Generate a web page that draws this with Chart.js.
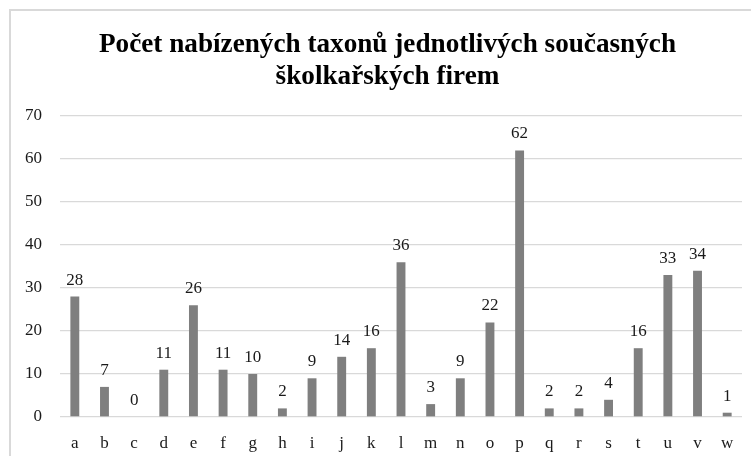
<!DOCTYPE html>
<html>
<head>
<meta charset="utf-8">
<script src="https://cdn.jsdelivr.net/npm/chart.js@4/dist/chart.umd.min.js"></script>
<style>
html,body{margin:0;padding:0;background:#fff;}
#wrap{position:relative;width:751px;height:456px;}
</style>
</head>
<body>
<div id="wrap"><canvas id="c" width="751" height="456"></canvas></div>
<script>
const categories = ["a","b","c","d","e","f","g","h","i","j","k","l","m","n","o","p","q","r","s","t","u","v","w"];
const values = [28,7,0,11,26,11,10,2,9,14,16,36,3,9,22,62,2,2,4,16,33,34,1];
const titleLines = ["Počet nabízených taxonů jednotlivých současných", "školkařských firem"];
const yTicks = [0,10,20,30,40,50,60,70];

const SERIF = "'Liberation Serif','Times New Roman',serif";

const framePlugin = {
  id: 'frame',
  beforeDraw(chart) {
    const ctx = chart.ctx;
    ctx.save();
    ctx.fillStyle = '#fff';
    ctx.fillRect(0, 0, chart.width, chart.height);
    ctx.strokeStyle = '#d9d9d9';
    ctx.lineWidth = 2;
    ctx.strokeRect(10, 10, 900, 600);
    ctx.restore();
  },
  afterDraw(chart) {
    const ctx = chart.ctx;
    ctx.save();
    ctx.fillStyle = '#000';
    ctx.font = "bold 28px " + SERIF;
    ctx.textAlign = 'center';
    ctx.textBaseline = 'alphabetic';
    const targetW = 577;
    const w0 = ctx.measureText(titleLines[0]).width;
    const sx = targetW / w0;
    const cx = 387.5;
    const baselines = [52, 84];
    titleLines.forEach((t, i) => {
      ctx.save();
      ctx.translate(cx, baselines[i]);
      ctx.scale(sx, 1);
      ctx.fillText(t, 0, 0);
      ctx.restore();
    });
    // data labels
    const meta = chart.getDatasetMeta(0);
    ctx.font = "17px " + SERIF;
    ctx.fillStyle = '#1a1a1a';
    meta.data.forEach((bar, i) => {
      ctx.fillText(String(values[i]), bar.x, bar.y - 12);
    });
    ctx.restore();
  }
};

new Chart(document.getElementById('c'), {
  type: 'bar',
  data: {
    labels: categories,
    datasets: [{
      data: values,
      backgroundColor: '#7f7f7f',
      borderWidth: 0,
      barPercentage: 0.3,
      categoryPercentage: 1.0
    }]
  },
  options: {
    responsive: false,
    animation: false,
    devicePixelRatio: 1,
    layout: { padding: { left: 10, right: 9, top: 116, bottom: 0 } },
    plugins: { legend: { display: false }, title: { display: false }, tooltip: { enabled: false } },
    scales: {
      x: {
        grid: { display: false },
        border: { display: false },
        ticks: { color: '#1a1a1a', font: { family: SERIF, size: 17 }, padding: 8, maxRotation: 0, autoSkip: false },
        afterFit(s) { s.height = 39; }
      },
      y: {
        min: 0, max: 70,
        afterBuildTicks(s) { s.ticks = yTicks.map(v => ({ value: v })); },
        grid: { color: '#d9d9d9', lineWidth: 1.3, drawTicks: false },
        border: { display: false },
        ticks: { color: '#1a1a1a', font: { family: SERIF, size: 17 }, padding: 18 },
        afterFit(s) { s.width = 50; }
      }
    }
  },
  plugins: [framePlugin]
});
</script>
</body>
</html>
